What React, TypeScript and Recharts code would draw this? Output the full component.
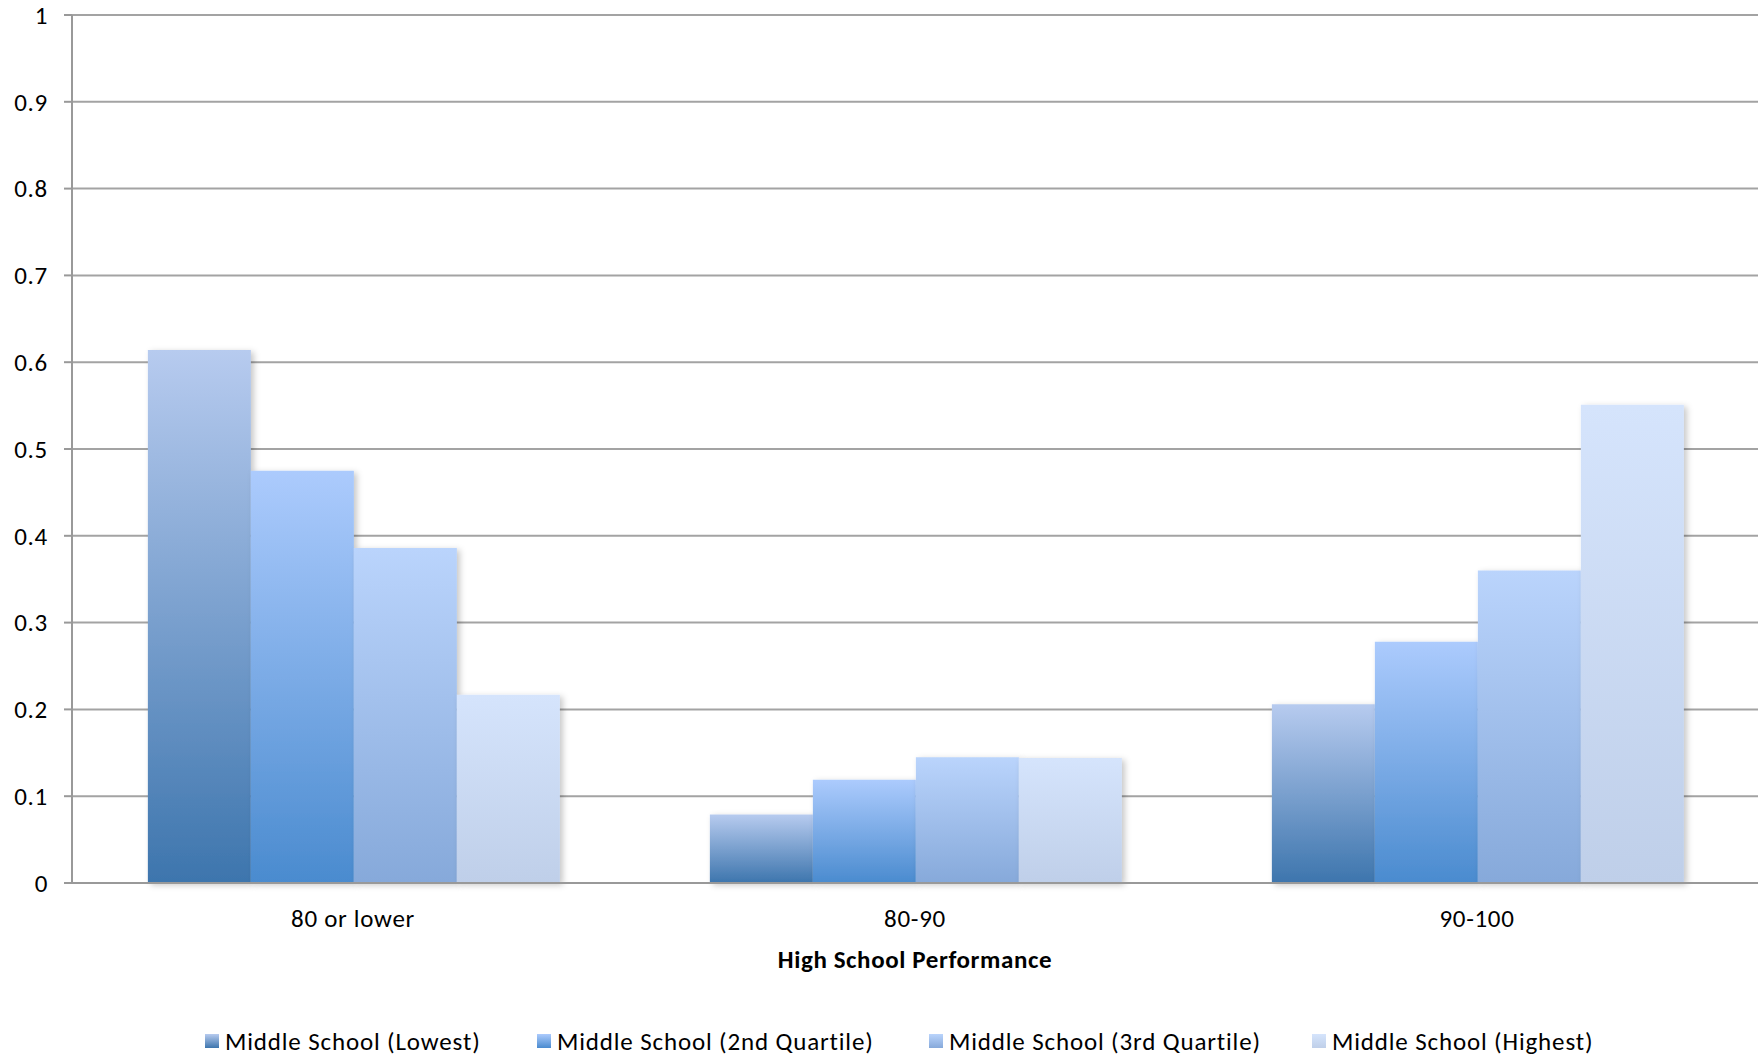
import React from 'react';
import { BarChart, Bar, XAxis, YAxis, CartesianGrid, Legend } from 'recharts';

const categories = ['80 or lower', '80-90', '90-100'];
const lowest = [0.614, 0.079, 0.206];
const secondQuartile = [0.475, 0.119, 0.278];
const thirdQuartile = [0.386, 0.145, 0.36];
const highest = [0.217, 0.144, 0.551];
const seriesNames = [
  'Middle School (Lowest)',
  'Middle School (2nd Quartile)',
  'Middle School (3rd Quartile)',
  'Middle School (Highest)',
];
const yTicks = [0, 0.1, 0.2, 0.3, 0.4, 0.5, 0.6, 0.7, 0.8, 0.9, 1];
const yTickLabels = ['0', '0.1', '0.2', '0.3', '0.4', '0.5', '0.6', '0.7', '0.8', '0.9', '1'];
const xAxisTitle = 'High School Performance';

const data = categories.map((c, i) => ({
  category: c,
  s1: lowest[i],
  s2: secondQuartile[i],
  s3: thirdQuartile[i],
  s4: highest[i],
}));

const seriesKeys = ['s1', 's2', 's3', 's4'];
const gradients = [
  { top: '#B7CBEF', bottom: '#3D75AD' },
  { top: '#ACCBFD', bottom: '#4A8BCF' },
  { top: '#BAD4FC', bottom: '#86A9DA' },
  { top: '#D5E4FC', bottom: '#BFCFE9' },
];

const FONT = 'Carlito, Calibri, Lato, "Open Sans", sans-serif';
const FS = 25;
const LS = '0.7px';
const LEGEND_LS = '0.85px';
const GRID = '#a3a3a3';
const AXIS = '#999999';
const legendLefts = [205, 537, 929, 1312];

const LegendContent = () => (
  <div style={{ position: 'relative', height: 40, width: 1758, fontFamily: FONT }}>
    {seriesNames.map((name, i) => (
      <div
        key={name}
        style={{
          position: 'absolute',
          left: legendLefts[i],
          top: 8,
          height: 32,
          display: 'flex',
          alignItems: 'center',
          whiteSpace: 'nowrap',
        }}
      >
        <span
          style={{
            display: 'inline-block',
            width: 14,
            height: 14,
            marginRight: 6,
            background: `linear-gradient(${gradients[i].top}, ${gradients[i].bottom})`,
          }}
        />
        <span style={{ fontSize: FS, letterSpacing: LEGEND_LS, color: '#000' }}>{name}</span>
      </div>
    ))}
  </div>
);

export default function App() {
  return (
    <div style={{ width: 1758, height: 1057, background: '#fff' }}>
      <style>{`body{margin:0;background:#fff}`}</style>
      <BarChart
        width={1758}
        height={1057}
        data={data}
        margin={{ top: 15, right: 0, left: 0, bottom: 0 }}
        barCategoryGap="13.5%"
        barGap={0}
      >
        <defs>
          {gradients.map((g, i) => (
            <linearGradient key={i} id={`grad${i}`} x1="0" y1="0" x2="0" y2="1">
              <stop offset="0%" stopColor={g.top} />
              <stop offset="100%" stopColor={g.bottom} />
            </linearGradient>
          ))}
          <filter id="barShadow" x="-20%" y="-10%" width="140%" height="125%">
            <feDropShadow dx="3" dy="2" stdDeviation="3" floodColor="#000" floodOpacity="0.22" />
          </filter>
        </defs>
        <CartesianGrid vertical={false} stroke={GRID} strokeWidth={2} />
        <XAxis
          xAxisId="edges"
          type="number"
          domain={[0, 3]}
          ticks={[0, 1, 2, 3]}
          tick={false}
          axisLine={false}
          tickLine={{ stroke: AXIS, strokeWidth: 2 }}
          tickSize={9}
          height={1}
          allowDataOverflow
        />
        <XAxis
          dataKey="category"
          height={133}
          axisLine={{ stroke: AXIS, strokeWidth: 2 }}
          tickLine={false}
          tickSize={8}
          tickMargin={18}
          tick={{ fontSize: FS, fill: '#000', fontFamily: FONT, style: { letterSpacing: LS } }}
          label={{
            value: xAxisTitle,
            position: 'insideBottom',
            offset: 48,
            style: { fontSize: FS, fontWeight: 'bold', fill: '#000', fontFamily: FONT, letterSpacing: '0.6px' },
          }}
        />
        <YAxis
          width={72}
          domain={[0, 1]}
          ticks={yTicks}
          interval={0}
          tickFormatter={(v: number) => yTickLabels[yTicks.indexOf(v)] ?? String(v)}
          axisLine={{ stroke: AXIS, strokeWidth: 2 }}
          tickLine={{ stroke: AXIS, strokeWidth: 2 }}
          tickSize={8}
          tickMargin={16}
          tick={{ fontSize: FS, fill: '#000', fontFamily: FONT, style: { letterSpacing: LS } }}
        />
        <Legend verticalAlign="bottom" align="left" height={40} content={<LegendContent />} />
        {seriesKeys.map((k, i) => (
          <Bar
            key={k}
            dataKey={k}
            name={seriesNames[i]}
            fill={`url(#grad${i})`}
            filter="url(#barShadow)"
            isAnimationActive={false}
          />
        ))}
      </BarChart>
    </div>
  );
}
